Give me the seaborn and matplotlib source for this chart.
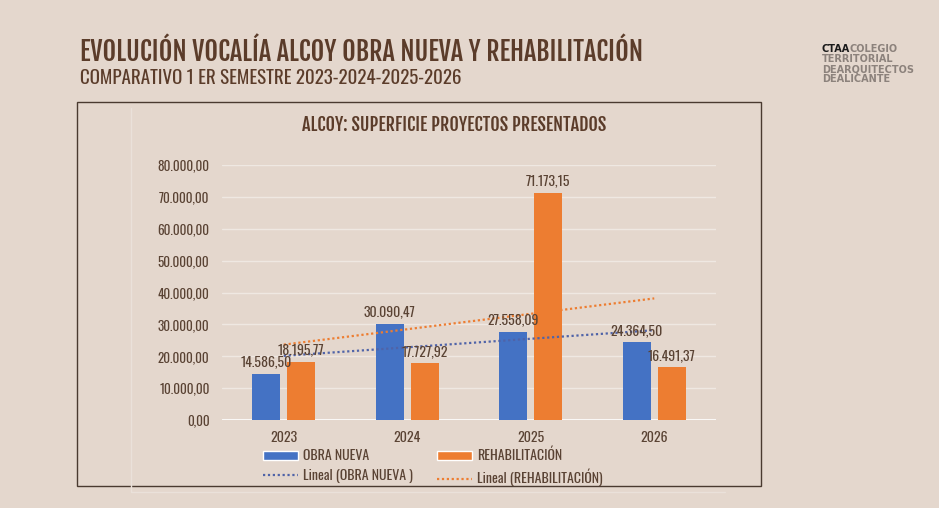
import matplotlib
matplotlib.use("Agg")
import matplotlib.pyplot as plt
from matplotlib import font_manager
import matplotlib.patheffects as pe
from matplotlib.patches import Rectangle
from matplotlib.lines import Line2D
import numpy as np
import pandas as pd
import seaborn as sns

years = ["2023", "2024", "2025", "2026"]
obra_nueva = [14586.50, 30090.47, 27558.09, 24364.50]
rehabilitacion = [18195.77, 17727.92, 71173.15, 16491.37]
series_names = ["OBRA NUEVA", "REHABILITACIÓN"]
y_ticks = [0, 10000, 20000, 30000, 40000, 50000, 60000, 70000, 80000]

BG = "#E4D7CD"
BROWN = "#5B3C2A"
TEXT = "#5A4334"
BLUE = "#4472C4"
ORANGE = "#ED7D31"
TREND_BLUE = "#4F63A8"

FONT = ["Oswald", "DejaVu Sans"]

# bold condensed face for headings
fonts = font_manager.fontManager.ttflist
oswald_bold = [f for f in fonts if f.name == "Oswald" and f.weight in (600, 700, "bold", "semibold")]
have_fjalla = any(f.name == "Fjalla One" for f in fonts)


def head_style(stroke):
    if oswald_bold:
        return dict(family=FONT, fontweight="bold")
    if have_fjalla:
        return dict(family=["Fjalla One", "DejaVu Sans"])
    return dict(family=FONT, path_effects=[pe.withStroke(linewidth=stroke, foreground=BROWN)])


def fmt_es(v):
    s = f"{v:,.2f}"
    return s.replace(",", "X").replace(".", ",").replace("X", ".")


df = pd.DataFrame({
    "year": years * 2,
    "serie": [series_names[0]] * 4 + [series_names[1]] * 4,
    "valor": obra_nueva + rehabilitacion,
})

sns.set_theme(style="white")
plt.rcParams["font.family"] = FONT

fig = plt.figure(figsize=(9.39, 5.08), dpi=100, facecolor=BG)

# frame around the chart block, plus the faint inner outline
fig.add_artist(Rectangle((77 / 939, 1 - 486 / 508), (761 - 77) / 939, (486 - 102) / 508,
                         transform=fig.transFigure, fill=False, edgecolor="#4A3A30", lw=1.0))
fig.add_artist(Line2D([131 / 939, 131 / 939, 725 / 939], [1 - 108 / 508, 1 - 492 / 508, 1 - 492 / 508],
                      transform=fig.transFigure, color="#EAE1DA", lw=1.0))

ax = fig.add_axes([222 / 939, 1 - 420 / 508, (716 - 222) / 939, (420 - 165) / 508])
ax.set_facecolor(BG)

sns.barplot(data=df, x="year", y="valor", hue="serie", order=years,
            hue_order=series_names, palette=[BLUE, ORANGE], width=0.565, gap=0.2,
            saturation=1, linewidth=0, ax=ax, legend=False, zorder=3)

# data labels
for container in ax.containers:
    ax.bar_label(container, labels=[fmt_es(b.get_height()) for b in container],
                 padding=4, fontsize=10, color=TEXT, zorder=5)

# linear trendlines like Excel
xs = np.arange(len(years))
for vals, col in [(obra_nueva, TREND_BLUE), (rehabilitacion, ORANGE)]:
    m, b = np.polyfit(xs, vals, 1)
    ax.plot(xs, m * xs + b, linestyle=(0, (1, 1.2)), color=col, lw=1.6, zorder=4)

ax.set_xlim(-0.5, 3.5)
ax.set_ylim(0, 80000)
ax.set_yticks(y_ticks)
ax.set_yticklabels([fmt_es(v) for v in y_ticks])
ax.grid(axis="y", color="#EFE8E2", lw=1.0, zorder=0)
ax.axhline(0, color="#FAF8F6", lw=2.2, zorder=2)
for s in ax.spines.values():
    s.set_visible(False)
ax.tick_params(axis="y", length=0, pad=9, labelsize=9.5, labelcolor=TEXT)
ax.tick_params(axis="x", length=0, pad=8, labelsize=10, labelcolor=TEXT)
ax.set_xlabel("")
ax.set_ylabel("")

# legend under the axis
handles = [
    Rectangle((0, 0), 1, 1, facecolor=BLUE),
    Line2D([0], [0], color=TREND_BLUE, linestyle=(0, (1, 1.2)), lw=1.6),
    Rectangle((0, 0), 1, 1, facecolor=ORANGE),
    Line2D([0], [0], color=ORANGE, linestyle=(0, (1, 1.2)), lw=1.6),
]
labels = ["OBRA NUEVA", "Lineal (OBRA NUEVA )", "REHABILITACIÓN", "Lineal (REHABILITACIÓN)"]
leg = fig.legend(handles, labels, ncol=2, loc="upper left", bbox_to_anchor=(256 / 939, 1 - 441 / 508),
                 frameon=False, borderpad=0, fontsize=10, handlelength=2.5, handleheight=0.55,
                 handletextpad=0.35, columnspacing=1.8, labelspacing=0.45)
for t in leg.get_texts():
    t.set_color(TEXT)

# titles
fig.text(80 / 939, 1 - 52 / 508, "EVOLUCIÓN VOCALÍA ALCOY OBRA NUEVA Y REHABILITACIÓN",
         fontsize=18.8, color=BROWN, va="center", ha="left", **head_style(1.5))
fig.text(80 / 939, 1 - 78 / 508, "COMPARATIVO 1 ER SEMESTRE 2023-2024-2025-2026",
         fontsize=13.7, color=BROWN, va="center", ha="left")
fig.text(454 / 939, 1 - 125 / 508, "ALCOY: SUPERFICIE PROYECTOS PRESENTADOS",
         fontsize=13.1, color=BROWN, va="center", ha="center", **head_style(1.2))

# logo
LOGO_GREY = "#8C827C"
logo_font = "DejaVu Sans"
t = fig.text(822 / 939, 1 - 49 / 508, "CTAA", fontsize=7, fontweight="bold", color="#1A1A1A",
             va="center", ha="left", family=logo_font)
fig.canvas.draw()
w = t.get_window_extent().width
fig.text((821 + w) / 939, 1 - 49 / 508, "COLEGIO", fontsize=7, fontweight="bold", color=LOGO_GREY,
         va="center", ha="left", family=logo_font)
for i, word in enumerate(["TERRITORIAL", "DEARQUITECTOS", "DEALICANTE"]):
    fig.text(822 / 939, 1 - (59 + 10 * i) / 508, word, fontsize=7, fontweight="bold",
             color=LOGO_GREY, va="center", ha="left", family=logo_font)

fig.savefig("out.png", dpi=100, facecolor=BG)
